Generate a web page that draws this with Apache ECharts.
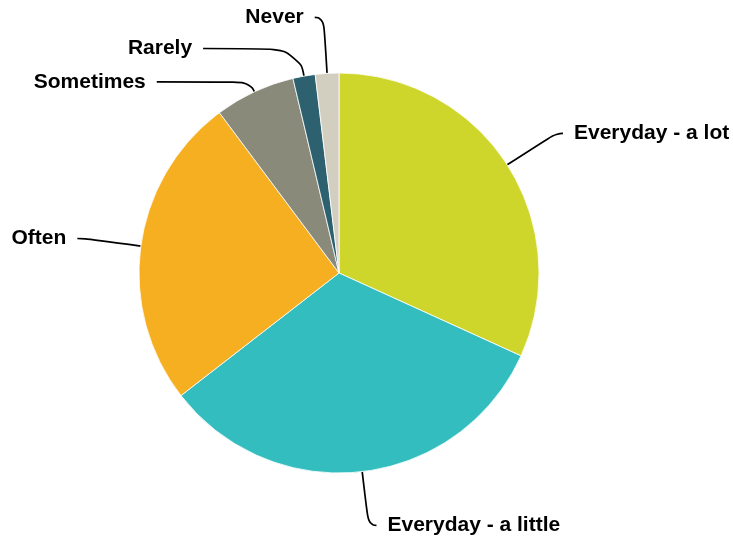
<!DOCTYPE html>
<html>
<head>
<meta charset="utf-8">
<title>How often</title>
<script src="https://cdn.jsdelivr.net/npm/echarts@6/dist/echarts.min.js"></script>
<style>
  html, body { margin: 0; padding: 0; background: #ffffff; }
  #chart { width: 733px; height: 541px; }
</style>
</head>
<body>
<div id="chart"></div>
<script>
// Answer categories, clockwise from 12 o'clock
const categories = ['Everyday - a lot', 'Everyday - a little', 'Often', 'Sometimes', 'Rarely', 'Never'];
// Share of responses (%)
const values = [31.8, 32.7, 25.3, 6.5, 1.8, 1.9];

// Slice colours
const sliceColors = ['#CFD62B', '#33BDBF', '#F6AF20', '#8A8A7A', '#2D616F', '#D2CFC1'];
// Leader line lengths per slice: [radial part, horizontal part]
const leaderLengths = [[58, 7], [54, 8], [56, 8], [11, 93], [28, 96], [56, 9]];

const chart = echarts.init(document.getElementById('chart'), null, { renderer: 'canvas' });

const seriesData = categories.map((name, i) => ({
  name: name,
  value: values[i],
  itemStyle: { color: sliceColors[i] },
  labelLine: { length: leaderLengths[i][0], length2: leaderLengths[i][1] }
}));

chart.setOption({
  animation: false,
  backgroundColor: '#ffffff',
  series: [{
    type: 'pie',
    center: [339, 273],
    radius: 200,
    startAngle: 90,
    clockwise: true,
    avoidLabelOverlap: false,
    itemStyle: { borderColor: '#ffffff', borderWidth: 0.8 },
    label: {
      show: true,
      position: 'outside',
      formatter: '{b}',
      color: '#000000',
      fontFamily: '"Liberation Sans", Arial, sans-serif',
      fontWeight: 'bold',
      fontSize: 21,
      distanceToLabelLine: 11,
      bleedMargin: 0,
      overflow: 'none',
      padding: [0, 0, 4, 0]
    },
    labelLine: {
      show: true,
      smooth: 0.6,
      lineStyle: { color: '#000000', width: 1.7 }
    },
    emphasis: { disabled: true },
    data: seriesData
  }]
});
</script>
</body>
</html>
